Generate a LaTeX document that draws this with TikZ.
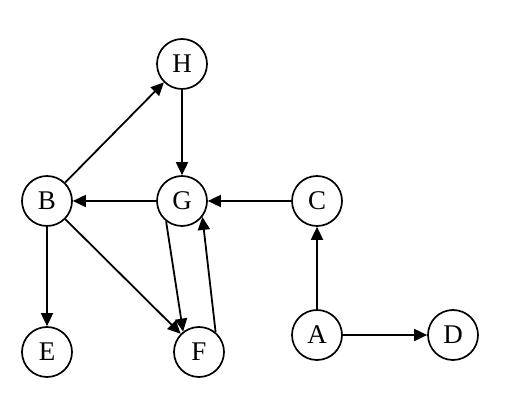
\documentclass[tikz,border=0pt]{standalone}
\usepackage{fontspec}
\setmainfont{Liberation Serif}
\usetikzlibrary{arrows.meta}
\begin{document}
\begin{tikzpicture}[x=1pt,y=1pt,
  vtx/.style={circle,draw,line width=1.7pt,minimum size=50pt,inner sep=0pt,font=\fontsize{27}{27}\selectfont},
  edge/.style={line width=1.8pt,-{Triangle[length=13pt,width=12pt]}}]
\useasboundingbox (0,0) rectangle (505,403);
\node[vtx] (H) at (182,339) {H};
\node[vtx] (B) at (47,202) {B};
\node[vtx] (G) at (182,202) {G};
\node[vtx] (C) at (317,202) {C};
\node[vtx] (E) at (47,51) {E};
\node[vtx] (F) at (199,51) {F};
\node[vtx] (A) at (317,68) {A};
\node[vtx] (D) at (453,68) {D};
\draw[edge] (H) -- (G);
\draw[edge] (B) -- (H);
\draw[edge] (G) -- (B);
\draw[edge] (C) -- (G);
\draw[edge] (A) -- (C);
\draw[edge] (A) -- (D);
\draw[edge] (B) -- (E);
\draw[edge] (B) -- (F);
\draw[edge] (G.232) -- (F.128);
\draw[edge] (F.50) -- (G.-38);
\end{tikzpicture}
\end{document}
